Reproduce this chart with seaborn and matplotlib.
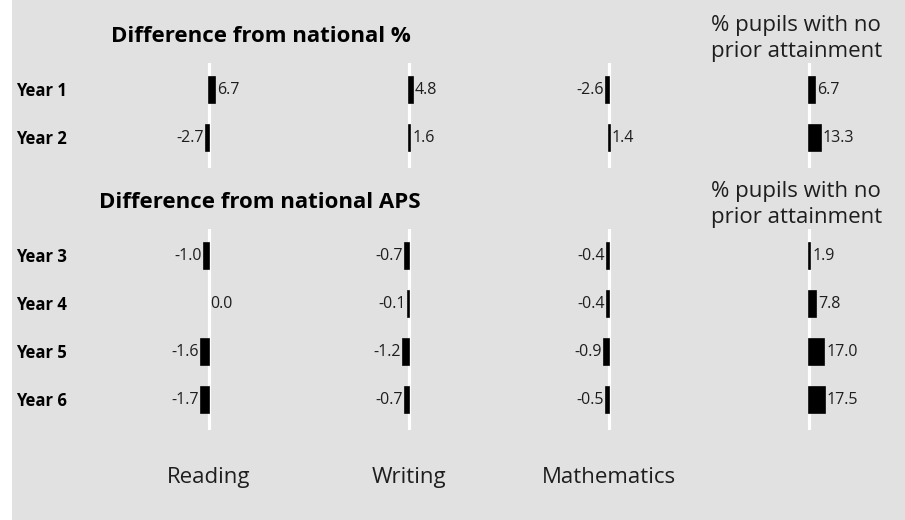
import matplotlib
matplotlib.use("Agg")
import matplotlib.pyplot as plt
from matplotlib.patches import Rectangle
import seaborn as sns

# ---- data -------------------------------------------------------------
subjects = ["Reading", "Writing", "Mathematics"]

pct_years = ["Year 1", "Year 2"]
pct_reading = [6.7, -2.7]
pct_writing = [4.8, 1.6]
pct_maths = [-2.6, 1.4]
pct_no_prior = [6.7, 13.3]

aps_years = ["Year 3", "Year 4", "Year 5", "Year 6"]
aps_reading = [-1.0, 0.0, -1.6, -1.7]
aps_writing = [-0.7, -0.1, -1.2, -0.7]
aps_maths = [-0.4, -0.4, -0.9, -0.5]
aps_no_prior = [1.9, 7.8, 17.0, 17.5]

title_pct = "Difference from national %"
title_aps = "Difference from national APS"
no_prior_title = "% pupils with no\nprior attainment"

# ---- style ------------------------------------------------------------
sns.set_style("white")
plt.rcParams["font.family"] = ["Open Sans", "DejaVu Sans"]

W, H = 905, 520
BG = "#e1e1e1"
TXT = "#1e1e1e"

fig = plt.figure(figsize=(W / 100, H / 100), dpi=100, facecolor="white")
fig.add_artist(Rectangle((12 / W, 0), 1 - 12 / W, 1, transform=fig.transFigure,
                         facecolor=BG, edgecolor="none", zorder=-10))


def px_rect(x0, y0, x1, y1):
    return [x0 / W, 1 - y1 / H, (x1 - x0) / W, (y1 - y0) / H]


col_zero = [208.5, 408.5, 608.5, 808.5]
half_w = 100
row_step = 48


def panel(years, series, top, first_row, xspans):
    n = len(years)
    bottom = first_row + (n - 1) * row_step + 30
    y_lo = (top - first_row) / row_step
    y_hi = (bottom - first_row) / row_step
    for cx, vals, span in zip(col_zero, series, xspans):
        ax = fig.add_axes(px_rect(cx - half_w, top, cx + half_w, bottom))
        ax.set_facecolor("none")
        ax.axvline(0, color="white", lw=2.3, zorder=0)
        sns.barplot(x=vals, y=years, orient="h", color="black", width=0.55,
                    edgecolor="black", linewidth=1.2, saturation=1, ax=ax, zorder=2)
        for p, v in zip(ax.patches, vals):
            if v == 0:
                p.set_linewidth(0)
        ax.bar_label(ax.containers[0], labels=[f"{v:.1f}" for v in vals],
                     padding=1.5, fontsize=11.5, color=TXT)
        ax.set_xlim(-span, span)
        ax.set_ylim(y_hi, y_lo)
        ax.axis("off")
    for i, yr in enumerate(years):
        fig.text(16 / W, 1 - (first_row + i * row_step + 6.5) / H, yr,
                 fontsize=12, fontweight="bold", color="black", va="baseline", ha="left")


pct_span = 100 / 0.92
aps_span = 100 / 4.5
panel(pct_years, [pct_reading, pct_writing, pct_maths, pct_no_prior],
      63, 90, [pct_span, pct_span, pct_span, pct_span])
panel(aps_years, [aps_reading, aps_writing, aps_maths, aps_no_prior],
      229, 256, [aps_span, aps_span, aps_span, pct_span])

# headings
fig.text(261 / W, 1 - 42 / H, title_pct, fontsize=16, fontweight="bold",
         color="black", ha="center", va="baseline")
fig.text(260 / W, 1 - 208 / H, title_aps, fontsize=16, fontweight="bold",
         color="black", ha="center", va="baseline")
for y_base in (57, 223):
    fig.text(711 / W, 1 - y_base / H, no_prior_title, fontsize=16, color=TXT,
             ha="left", va="baseline", linespacing=1.33)

# subject names under the columns
for cx, name in zip(col_zero, subjects):
    fig.text(cx / W, 1 - 483 / H, name, fontsize=16, color=TXT,
             ha="center", va="baseline")

fig.savefig("out.png", dpi=100, facecolor=fig.get_facecolor())
